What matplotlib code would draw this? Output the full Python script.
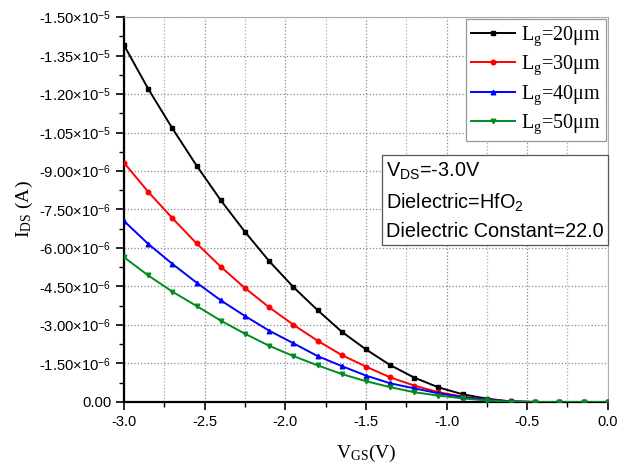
import matplotlib
matplotlib.use("Agg")
import matplotlib.pyplot as plt
from matplotlib.ticker import MultipleLocator, FixedLocator, FuncFormatter
import numpy as np

plt.rcParams['mathtext.fontset'] = 'custom'
plt.rcParams['mathtext.rm'] = 'Liberation Serif'
plt.rcParams['mathtext.it'] = 'Liberation Serif:italic'
plt.rcParams['mathtext.sf'] = 'Liberation Sans'
plt.rcParams['mathtext.bf'] = 'Liberation Serif:bold'
plt.rcParams['axes.unicode_minus'] = False

vgs = [-3.0, -2.85, -2.7, -2.55, -2.4, -2.25, -2.1, -1.95, -1.8, -1.65, -1.5,
       -1.35, -1.2, -1.05, -0.9, -0.75, -0.6, -0.45, -0.3, -0.15, 0.0]

ids_20 = [-13.9e-6, -12.2e-6, -10.66e-6, -9.21e-6, -7.86e-6, -6.63e-6, -5.49e-6,
          -4.48e-6, -3.58e-6, -2.74e-6, -2.05e-6, -1.44e-6, -0.95e-6, -0.57e-6,
          -0.30e-6, -0.13e-6, -0.02e-6, 0.0, 0.0, 0.0, 0.0]
ids_30 = [-9.32e-6, -8.19e-6, -7.16e-6, -6.18e-6, -5.27e-6, -4.44e-6, -3.69e-6,
          -3.01e-6, -2.39e-6, -1.83e-6, -1.38e-6, -0.96e-6, -0.64e-6, -0.38e-6,
          -0.21e-6, -0.09e-6, -0.02e-6, 0.0, 0.0, 0.0, 0.0]
ids_40 = [-7.05e-6, -6.16e-6, -5.38e-6, -4.65e-6, -3.96e-6, -3.35e-6, -2.78e-6,
          -2.29e-6, -1.79e-6, -1.40e-6, -1.03e-6, -0.73e-6, -0.53e-6, -0.34e-6,
          -0.19e-6, -0.08e-6, -0.02e-6, 0.0, 0.0, 0.0, 0.0]
ids_50 = [-5.64e-6, -4.93e-6, -4.30e-6, -3.74e-6, -3.17e-6, -2.66e-6, -2.19e-6,
          -1.79e-6, -1.43e-6, -1.09e-6, -0.81e-6, -0.58e-6, -0.38e-6, -0.25e-6,
          -0.14e-6, -0.06e-6, -0.01e-6, 0.0, 0.0, 0.0, 0.0]

series = [(ids_20, 'k', 's', '20'), (ids_30, '#ff0000', 'o', '30'),
          (ids_40, '#0000ff', '^', '40'), (ids_50, '#008c1e', 'v', '50')]

y_ticks = [0.0, -1.5e-6, -3.0e-6, -4.5e-6, -6.0e-6, -7.5e-6, -9.0e-6,
           -10.5e-6, -12.0e-6, -13.5e-6, -15.0e-6]
x_ticks = [-3.0, -2.5, -2.0, -1.5, -1.0, -0.5, 0.0]

fig = plt.figure(figsize=(6.17, 4.75), dpi=100)
ax = fig.add_axes([0.201, 0.1537, 0.784, 0.8105])

for ys, c, m, lg in series:
    ax.plot(vgs, ys, color=c, marker=m, markersize=3.3, linewidth=1.4,
            label=r'L$_{\mathrm{g}}$=' + lg + 'μm', zorder=3)

ax.set_xlim(-3.0, 0.0)
ax.set_ylim(0.0, -1.5e-5)

ax.xaxis.set_major_locator(FixedLocator(x_ticks))
ax.xaxis.set_minor_locator(MultipleLocator(0.25))
ax.yaxis.set_major_locator(FixedLocator(y_ticks))
ax.yaxis.set_minor_locator(MultipleLocator(0.75e-6))

def yfmt(v, pos):
    if abs(v) < 1e-12:
        return '0.00'
    exp = int(np.floor(np.log10(abs(v))))
    mant = v / 10**exp
    return '%.2f×10' % mant + r'$^{\mathsf{%d}}$' % exp

ax.yaxis.set_major_formatter(FuncFormatter(yfmt))
ax.xaxis.set_major_formatter(FuncFormatter(lambda v, p: '%.1f' % v))

ax.tick_params(axis='x', which='major', labelsize=10.5, direction='out', length=6, width=1.2)
ax.tick_params(axis='y', which='major', labelsize=10.6, direction='out', length=6, width=1.2, pad=3)
ax.tick_params(which='minor', direction='out', length=3.5, width=1.0)
ax.tick_params(top=False, right=False, which='both')
for lab in ax.get_xticklabels() + ax.get_yticklabels():
    lab.set_fontfamily('Liberation Sans')

ax.grid(True, which='major', axis='both', linestyle=':', color='#8a8a8a', linewidth=0.9)
ax.grid(True, which='minor', axis='x', linestyle=':', color='#aaaaaa', linewidth=0.9)
ax.set_axisbelow(True)

ax.spines['left'].set_linewidth(1.6)
ax.spines['bottom'].set_linewidth(1.6)
ax.spines['top'].set_color('#aaaaaa')
ax.spines['right'].set_color('#aaaaaa')
ax.spines['top'].set_linewidth(0.8)
ax.spines['right'].set_linewidth(0.8)

ax.set_xlabel(r'V$_{\mathrm{GS}}$(V)', fontfamily='Liberation Serif', fontsize=14, labelpad=10)
ax.set_ylabel(r'I$_{\mathrm{DS}}$ (A)', fontfamily='Liberation Serif', fontsize=14, labelpad=3)

leg = ax.legend(loc='upper right', prop={'family': 'Liberation Serif', 'size': 14.5},
                frameon=True, fancybox=False, edgecolor='#999999', framealpha=1,
                handlelength=2.2, handletextpad=0.3, labelspacing=0.3,
                borderpad=0.25, borderaxespad=0.1)
leg.get_frame().set_linewidth(0.9)

ax.text(0.542, 0.628,
        r'V$_{\mathsf{DS}}$=-3.0V' + '\n' + r'Dielectric=HfO$_{\mathsf{2}}$' + '\n' + 'Dielectric Constant=22.0',
        transform=ax.transAxes, fontfamily='Liberation Sans', fontsize=14.3,
        va='top', ha='left', linespacing=1.6,
        bbox=dict(boxstyle='square,pad=0.2', facecolor='white', edgecolor='#555555', linewidth=0.9),
        zorder=5)

fig.savefig('out.png', dpi=100)
